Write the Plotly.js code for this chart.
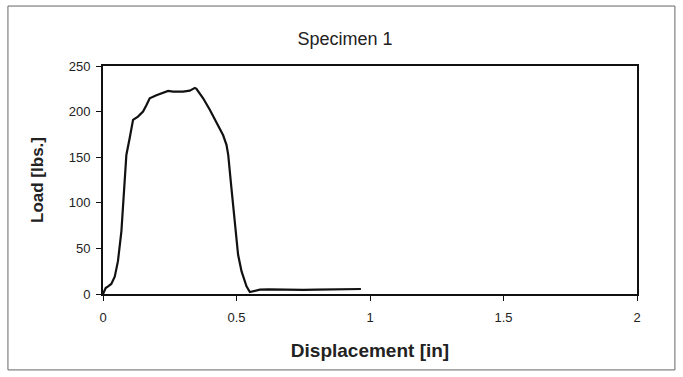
<!DOCTYPE html>
<html>
<head>
<meta charset="utf-8">
<script src="https://cdn.plot.ly/plotly-3.0.1.min.js"></script>
<style>html,body{margin:0;padding:0;background:#fff;}#chart{width:683px;height:377px;}</style>
</head>
<body>
<div id="chart"></div>
<script>
const displacement = [0, 0.01, 0.019, 0.031, 0.044, 0.056, 0.069, 0.081, 0.0875, 0.1, 0.1125, 0.131, 0.15, 0.1625, 0.175, 0.2, 0.225, 0.244, 0.262, 0.3, 0.325, 0.344, 0.35, 0.375, 0.4, 0.431, 0.45, 0.4625, 0.469, 0.481, 0.494, 0.506, 0.519, 0.5375, 0.55, 0.5625, 0.5875, 0.62, 0.66, 0.7, 0.75, 0.8, 0.85, 0.9, 0.966];
const load = [0, 6.6, 8.4, 11, 19, 36, 69, 123, 152.5, 171, 191, 194.5, 200, 207, 214.6, 218, 221, 222.6, 222, 222, 223, 226, 225, 214.6, 202, 185, 174, 163.5, 152.5, 116, 79.6, 43, 24.8, 8.4, 2.2, 3, 4.7, 5, 4.6, 4.3, 4.5, 4.8, 5, 5.2, 5.5];
const xTicks = [0, 0.5, 1, 1.5, 2];
const xTickLabels = ['0', '0.5', '1', '1.5', '2'];
const yTicks = [0, 50, 100, 150, 200, 250];
const yTickLabels = ['0', '50', '100', '150', '200', '250'];

const font = 'Liberation Sans, Arial, sans-serif';
const trace = {
  x: displacement, y: load, type: 'scatter', mode: 'lines',
  line: {color: '#111', width: 2.2}, hoverinfo: 'skip'
};
const layout = {
  width: 683, height: 377,
  margin: {l: 103, r: 46, t: 66, b: 83},
  paper_bgcolor: '#fff', plot_bgcolor: '#fff',
  showlegend: false,
  font: {family: font, color: '#222'},
  title: {text: 'Specimen 1', x: 0.505, xanchor: 'center', y: 0.897, yanchor: 'middle', font: {size: 18, family: font, color: '#222'}},
  xaxis: {
    range: [0, 2], tickvals: xTicks, ticktext: xTickLabels,
    showgrid: false, zeroline: false,
    showline: true, linecolor: '#111', linewidth: 2, mirror: true,
    ticks: 'outside', ticklen: 5, tickcolor: '#111', tickwidth: 1,
    ticklabelstandoff: 5,
    tickfont: {size: 13, family: font, color: '#222'},
    title: {text: '<b>Displacement [in]</b>', font: {size: 19, family: font, color: '#222'}, standoff: 20}
  },
  yaxis: {
    range: [0, 250], tickvals: yTicks, ticktext: yTickLabels,
    showgrid: false, zeroline: false,
    showline: true, linecolor: '#111', linewidth: 2, mirror: true,
    ticks: 'outside', ticklen: 5, tickcolor: '#111', tickwidth: 1,
    ticklabelstandoff: 3,
    tickfont: {size: 13, family: font, color: '#222'},
    title: {text: '<b>Load [lbs.]</b>', font: {size: 17, family: font, color: '#222'}, standoff: 21}
  },
  shapes: [{
    type: 'rect', xref: 'paper', yref: 'paper',
    x0: -0.178, x1: 1.071, y0: -0.333, y1: 1.263,
    line: {color: '#666', width: 1}
  }]
};
Plotly.newPlot('chart', [trace], layout, {staticPlot: true, displayModeBar: false});
</script>
</body>
</html>
